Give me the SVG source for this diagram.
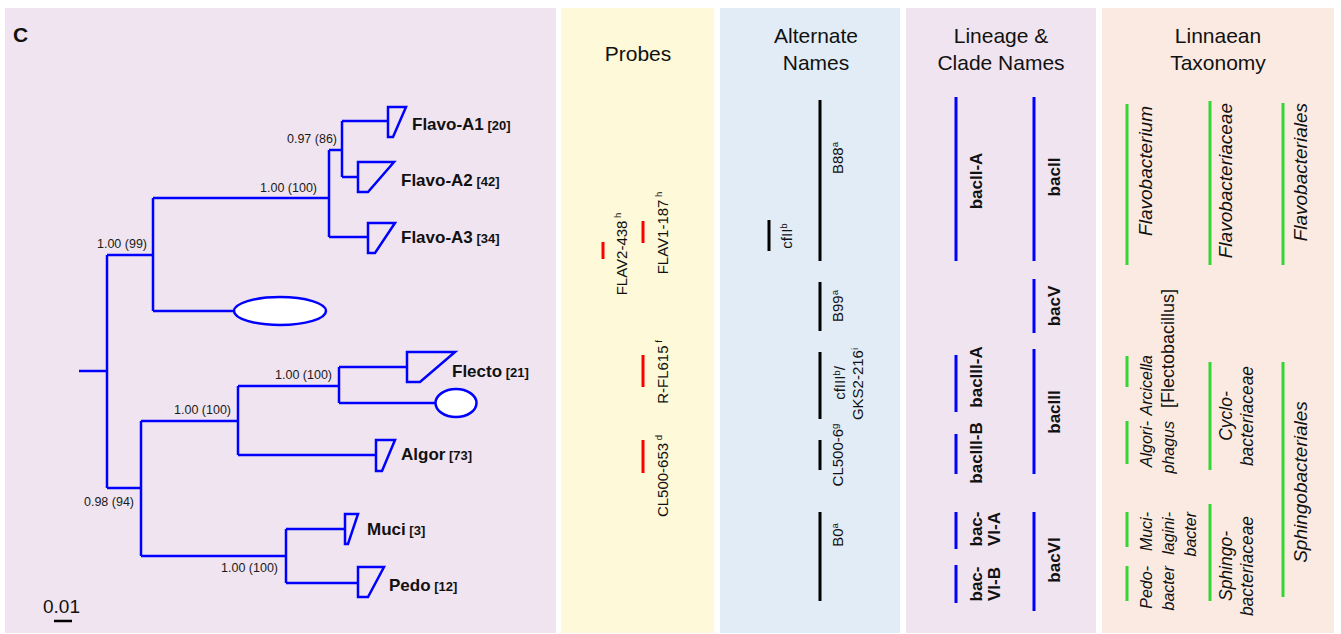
<svg xmlns="http://www.w3.org/2000/svg" width="1341" height="634" viewBox="0 0 1341 634">
  <style>
    .bg1 { fill: #f0e4f0; }
    .bg2 { fill: #fef9d8; }
    .bg3 { fill: #e1ecf6; }
    .bg4 { fill: #efe4ef; }
    .bg5 { fill: #fbeae1; }
    .tree { fill: none; stroke: #0000ff; stroke-width: 2.5; }
    .clade { fill: none; stroke: #0000ff; stroke-width: 2.5; stroke-linejoin: miter; }
    .oval { fill: #ffffff; stroke: #0000ff; stroke-width: 2.5; }
    .sup { font-family: "Liberation Sans", Arial, sans-serif; font-size: 12.5px; fill: #1a1a1a; }
    .name { font-family: "Liberation Sans", Arial, sans-serif; font-weight: bold; font-size: 17px; fill: #111; }
    .count { font-size: 13px; }
    .title { font-family: "Liberation Sans", Arial, sans-serif; font-size: 21px; fill: #111; text-anchor: middle; }
    .probe { stroke: #ff0000; stroke-width: 3; }
    .alt { stroke: #000; stroke-width: 3; }
    .lin { stroke: #0000ff; stroke-width: 3; }
    .tax { stroke: #33d633; stroke-width: 3; }
    .rt { font-family: "Liberation Sans", Arial, sans-serif; font-size: 15px; fill: #111; }
    .rb { font-family: "Liberation Sans", Arial, sans-serif; font-size: 17px; font-weight: bold; fill: #111; }
    .ri { font-family: "Liberation Sans", Arial, sans-serif; font-style: italic; fill: #111; }
    .big { font-size: 19px; }
    .mid { font-size: 17.5px; }
    .sm { font-size: 16px; }
    .rn { font-family: "Liberation Sans", Arial, sans-serif; font-size: 18px; fill: #111; }
    .s { font-size: 9.5px; }
  </style>

  <!-- column backgrounds -->
  <rect class="bg1" x="5" y="8" width="551" height="625"/>
  <rect class="bg2" x="561" y="8" width="153" height="625"/>
  <rect class="bg3" x="720" y="8" width="180" height="625"/>
  <rect class="bg4" x="906" y="8" width="190" height="625"/>
  <rect class="bg5" x="1102" y="8" width="232" height="625"/>

  <text x="13" y="42" font-family="Liberation Sans, Arial, sans-serif" font-weight="bold" font-size="21" fill="#111">C</text>

  <!-- tree branches -->
  <g id="connectors">
    <path class="tree" d="M79,371 H107 M107,255 V488
      M107,255 H153 M153,198 V311 M153,198 H329 M153,311 H234
      M329,150 V237 M329,150 H342 M342,121 V177 M342,121 H388 M342,177 H358 M329,237 H368
      M107,488 H141 M141,421 V556 M141,421 H238 M238,386 V455 M238,386 H339
      M339,367 V403 M339,367 H407 M339,403 H436 M238,455 H376
      M141,556 H286 M286,529 V583 M286,529 H345 M286,583 H358"/>
    <!-- support values -->
    <g class="sup" text-anchor="end">
      <text x="147" y="248">1.00 (99)</text>
      <text x="317" y="192">1.00 (100)</text>
      <text x="337" y="143">0.97 (86)</text>
      <text x="134" y="506">0.98 (94)</text>
      <text x="231" y="414">1.00 (100)</text>
      <text x="332" y="379">1.00 (100)</text>
      <text x="278" y="572">1.00 (100)</text>
    </g>
  </g>

  <!-- collapsed clades -->
  <g id="flavo-a1">
    <polygon class="clade" points="388,107 406,107 393,137 388,137"/>
    <text class="name" x="412" y="130">Flavo-A1<tspan class="count"> [20]</tspan></text>
  </g>
  <g id="flavo-a2">
    <polygon class="clade" points="358,162 394,162 368,192 358,192"/>
    <text class="name" x="401" y="186">Flavo-A2<tspan class="count"> [42]</tspan></text>
  </g>
  <g id="flavo-a3">
    <polygon class="clade" points="368,223 395,223 375,253 368,253"/>
    <text class="name" x="401" y="243">Flavo-A3<tspan class="count"> [34]</tspan></text>
  </g>
  <g id="oval-top">
    <ellipse class="oval" cx="280" cy="311" rx="46" ry="14"/>
  </g>
  <g id="flecto">
    <polygon class="clade" points="407,352 455,352 420,382 407,382"/>
    <text class="name" x="452" y="377">Flecto<tspan class="count"> [21]</tspan></text>
  </g>
  <g id="oval-flecto">
    <ellipse class="oval" cx="456" cy="403" rx="20.5" ry="14"/>
  </g>
  <g id="algor">
    <polygon class="clade" points="376,440 395,440 382,471 376,471"/>
    <text class="name" x="401" y="460">Algor<tspan class="count"> [73]</tspan></text>
  </g>
  <g id="muci">
    <polygon class="clade" points="345,514 358,514 348,544 345,544"/>
    <text class="name" x="367" y="535">Muci<tspan class="count"> [3]</tspan></text>
  </g>
  <g id="pedo">
    <polygon class="clade" points="358,567 384,567 368,597 358,597"/>
    <text class="name" x="389" y="591">Pedo<tspan class="count"> [12]</tspan></text>
  </g>

  <!-- scale bar -->
  <g id="scale">
    <text x="43" y="613" font-family="Liberation Sans, Arial, sans-serif" font-size="19" fill="#111">0.01</text>
    <line x1="54" y1="621" x2="72" y2="621" stroke="#000" stroke-width="2.5"/>
  </g>

  <!-- Probes -->
  <g id="probes">
    <text class="title" x="638" y="61">Probes</text>
    <line class="probe" x1="603" y1="242" x2="603" y2="259"/>
    <line class="probe" x1="643" y1="221" x2="643" y2="243"/>
    <line class="probe" x1="643" y1="355" x2="643" y2="387"/>
    <line class="probe" x1="643" y1="440" x2="643" y2="473"/>
    <text class="rt" text-anchor="middle" transform="translate(627,254) rotate(-90)">FLAV2-438<tspan class="s" dy="-6"> h</tspan></text>
    <text class="rt" text-anchor="middle" transform="translate(668,233) rotate(-90)">FLAV1-187<tspan class="s" dy="-6"> h</tspan></text>
    <text class="rt" text-anchor="middle" transform="translate(668,372) rotate(-90)">R-FL615<tspan class="s" dy="-6"> f</tspan></text>
    <text class="rt" text-anchor="middle" transform="translate(668,476) rotate(-90)">CL500-653<tspan class="s" dy="-6"> d</tspan></text>
  </g>

  <!-- Alternate names -->
  <g id="alternate-names">
    <text class="title" x="816" y="43">Alternate<tspan x="816" y="70">Names</tspan></text>
    <line class="alt" x1="820" y1="100" x2="820" y2="261"/>
    <line class="alt" x1="769" y1="220" x2="769" y2="251"/>
    <line class="alt" x1="820" y1="282" x2="820" y2="331"/>
    <line class="alt" x1="820" y1="352" x2="820" y2="419"/>
    <line class="alt" x1="820" y1="440" x2="820" y2="470"/>
    <line class="alt" x1="820" y1="512" x2="820" y2="601"/>
    <g class="rt">
      <text text-anchor="middle" transform="translate(843,158) rotate(-90)">B88<tspan class="s" dy="-5">a</tspan></text>
      <text text-anchor="middle" transform="translate(792,236) rotate(-90)">cfII<tspan class="s" dy="-5">b</tspan></text>
      <text text-anchor="middle" transform="translate(843,306) rotate(-90)">B99<tspan class="s" dy="-5">a</tspan></text>
      <text text-anchor="middle" transform="translate(845,383) rotate(-90)">cfIII<tspan class="s" dy="-5">b</tspan><tspan dy="5">/</tspan></text>
      <text text-anchor="middle" transform="translate(863,384) rotate(-90)">GKS2-216<tspan class="s" dy="-5">i</tspan></text>
      <text text-anchor="middle" transform="translate(843,455) rotate(-90)">CL500-6<tspan class="s" dy="-5">g</tspan></text>
      <text text-anchor="middle" transform="translate(843,535) rotate(-90)">B0<tspan class="s" dy="-5">a</tspan></text>
    </g>
  </g>

  <!-- Lineage and clade names -->
  <g id="lineage">
    <text class="title" x="1001" y="43">Lineage &amp;<tspan x="1001" y="70">Clade Names</tspan></text>
    <line class="lin" x1="956" y1="97" x2="956" y2="261"/>
    <line class="lin" x1="1034" y1="97" x2="1034" y2="261"/>
    <line class="lin" x1="1034" y1="279" x2="1034" y2="333"/>
    <line class="lin" x1="1034" y1="349" x2="1034" y2="474"/>
    <line class="lin" x1="956" y1="355" x2="956" y2="412"/>
    <line class="lin" x1="956" y1="434" x2="956" y2="474"/>
    <line class="lin" x1="956" y1="512" x2="956" y2="549"/>
    <line class="lin" x1="956" y1="565" x2="956" y2="603"/>
    <line class="lin" x1="1034" y1="512" x2="1034" y2="611"/>
    <g class="rb" text-anchor="middle">
      <text transform="translate(982,181) rotate(-90)">bacII-A</text>
      <text transform="translate(1060,177) rotate(-90)">bacII</text>
      <text transform="translate(1060,306) rotate(-90)">bacV</text>
      <text transform="translate(1060,412) rotate(-90)">bacIII</text>
      <text transform="translate(982,377) rotate(-90)">bacIII-A</text>
      <text transform="translate(982,453) rotate(-90)">bacIII-B</text>
      <text transform="translate(1060,560) rotate(-90)">bacVI</text>
      <text transform="translate(982,529) rotate(-90)">bac-<tspan x="0" y="18">VI-A</tspan></text>
      <text transform="translate(982,584) rotate(-90)">bac-<tspan x="0" y="18">VI-B</tspan></text>
    </g>
  </g>

  <!-- Linnaean taxonomy -->
  <g id="linnaean">
    <text class="title" x="1218" y="43">Linnaean<tspan x="1218" y="70">Taxonomy</tspan></text>
    <line class="tax" x1="1127" y1="104" x2="1127" y2="265"/>
    <line class="tax" x1="1127" y1="356" x2="1127" y2="387"/>
    <line class="tax" x1="1127" y1="421" x2="1127" y2="464"/>
    <line class="tax" x1="1127" y1="512" x2="1127" y2="547"/>
    <line class="tax" x1="1127" y1="566" x2="1127" y2="601"/>
    <line class="tax" x1="1210" y1="101" x2="1210" y2="265"/>
    <line class="tax" x1="1210" y1="362" x2="1210" y2="470"/>
    <line class="tax" x1="1210" y1="504" x2="1210" y2="601"/>
    <line class="tax" x1="1283" y1="103" x2="1283" y2="265"/>
    <line class="tax" x1="1283" y1="362" x2="1283" y2="597"/>
    <g class="ri">
      <text class="big" text-anchor="end" transform="translate(1152,106) rotate(-90)">Flavobacterium</text>
      <text class="big" text-anchor="end" transform="translate(1232,103) rotate(-90)">Flavobacteriaceae</text>
      <text class="big" text-anchor="end" transform="translate(1307,103) rotate(-90)">Flavobacteriales</text>
      <text class="sm" text-anchor="end" transform="translate(1152,355) rotate(-90)">Arcicella</text>
      <text class="sm" text-anchor="end" transform="translate(1152,421) rotate(-90)">Algori-<tspan x="0" y="22">phagus</tspan></text>
      <text class="sm" text-anchor="end" transform="translate(1152,512) rotate(-90)">Muci-<tspan x="0" y="22">lagini-</tspan><tspan x="0" y="44">bacter</tspan></text>
      <text class="sm" text-anchor="end" transform="translate(1152,566) rotate(-90)">Pedo-<tspan x="0" y="22">bacter</tspan></text>
      <text class="mid" text-anchor="middle" transform="translate(1232,416) rotate(-90)">Cyclo-<tspan x="0" y="21">bacteriaceae</tspan></text>
      <text class="mid" text-anchor="middle" transform="translate(1232,566) rotate(-90)">Sphingo-<tspan x="0" y="21">bacteriaceae</tspan></text>
      <text class="big" text-anchor="middle" transform="translate(1307,482) rotate(-90)">Sphingobacteriales</text>
    </g>
    <text class="rn" text-anchor="end" transform="translate(1174,289) rotate(-90)">[Flectobacillus]</text>
  </g>
</svg>
